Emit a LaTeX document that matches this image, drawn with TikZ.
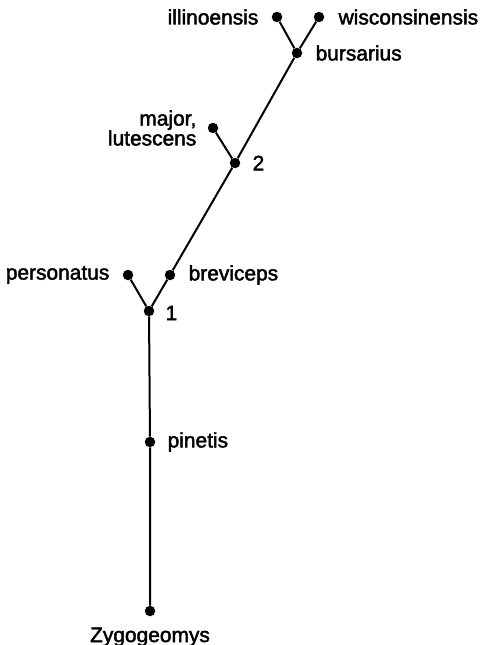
\documentclass[tikz,border=0pt]{standalone}
\usepackage{fontspec}
\setmainfont{Liberation Sans}
\newfontfamily\taxfont{Liberation Sans}[FakeBold=2]
\usepackage{tikz}
\usetikzlibrary{positioning}

\begin{document}
\begin{tikzpicture}[
    x=1bp, y=-1bp,
    taxon/.style={circle, fill=black, inner sep=0pt, minimum size=10.5bp},
    taxlab/.style={inner sep=0pt, font=\taxfont\fontsize{21}{20}\selectfont},
    branch/.style={line width=2bp}
]
\useasboundingbox (0,0) rectangle (488,645);

% Tips at the top
\node[taxon] (ill) at (277,17) {};
\node[taxon] (wis) at (319,17) {};
\node[taxon] (bur) at (297,53) {};
\node[taxlab, left=13bp of ill] (illlab) {illinoensis};
\node[taxlab, right=14bp of wis] (wislab) {wisconsinensis};
\node[taxlab, right=13bp of bur] (burlab) {bursarius};

% Node 2
\node[taxon] (maj) at (213,128) {};
\node[taxon] (n2) at (235,163) {};
\node[taxlab, left=11bp of maj, align=right] (majlab) {major,\\lutescens};
\node[taxlab, right=12bp of n2] (n2lab) {2};

% Node 1
\node[taxon] (pers) at (128,275) {};
\node[taxon] (brev) at (170,275) {};
\node[taxon] (n1) at (149,311) {};
\node[taxlab, left=13bp of pers] (perslab) {personatus};
\node[taxlab, right=13bp of brev] (brevlab) {breviceps};
\node[taxlab, right=11bp of n1, yshift=-2bp] (n1lab) {1};

% Stem
\node[taxon] (pin) at (150,442) {};
\node[taxon] (zyg) at (150,611) {};
\node[taxlab, right=12bp of pin] (pinlab) {pinetis};
\node[taxlab, below=11bp of zyg] (zyglab) {Zygogeomys};

% Branches
\draw[branch] (zyg) -- (pin) -- (n1);
\draw[branch] (n1) -- (pers);
\draw[branch] (n1) -- (brev) -- (n2);
\draw[branch] (n2) -- (maj);
\draw[branch] (n2) -- (bur);
\draw[branch] (bur) -- (ill);
\draw[branch] (bur) -- (wis);

\end{tikzpicture}
\end{document}
